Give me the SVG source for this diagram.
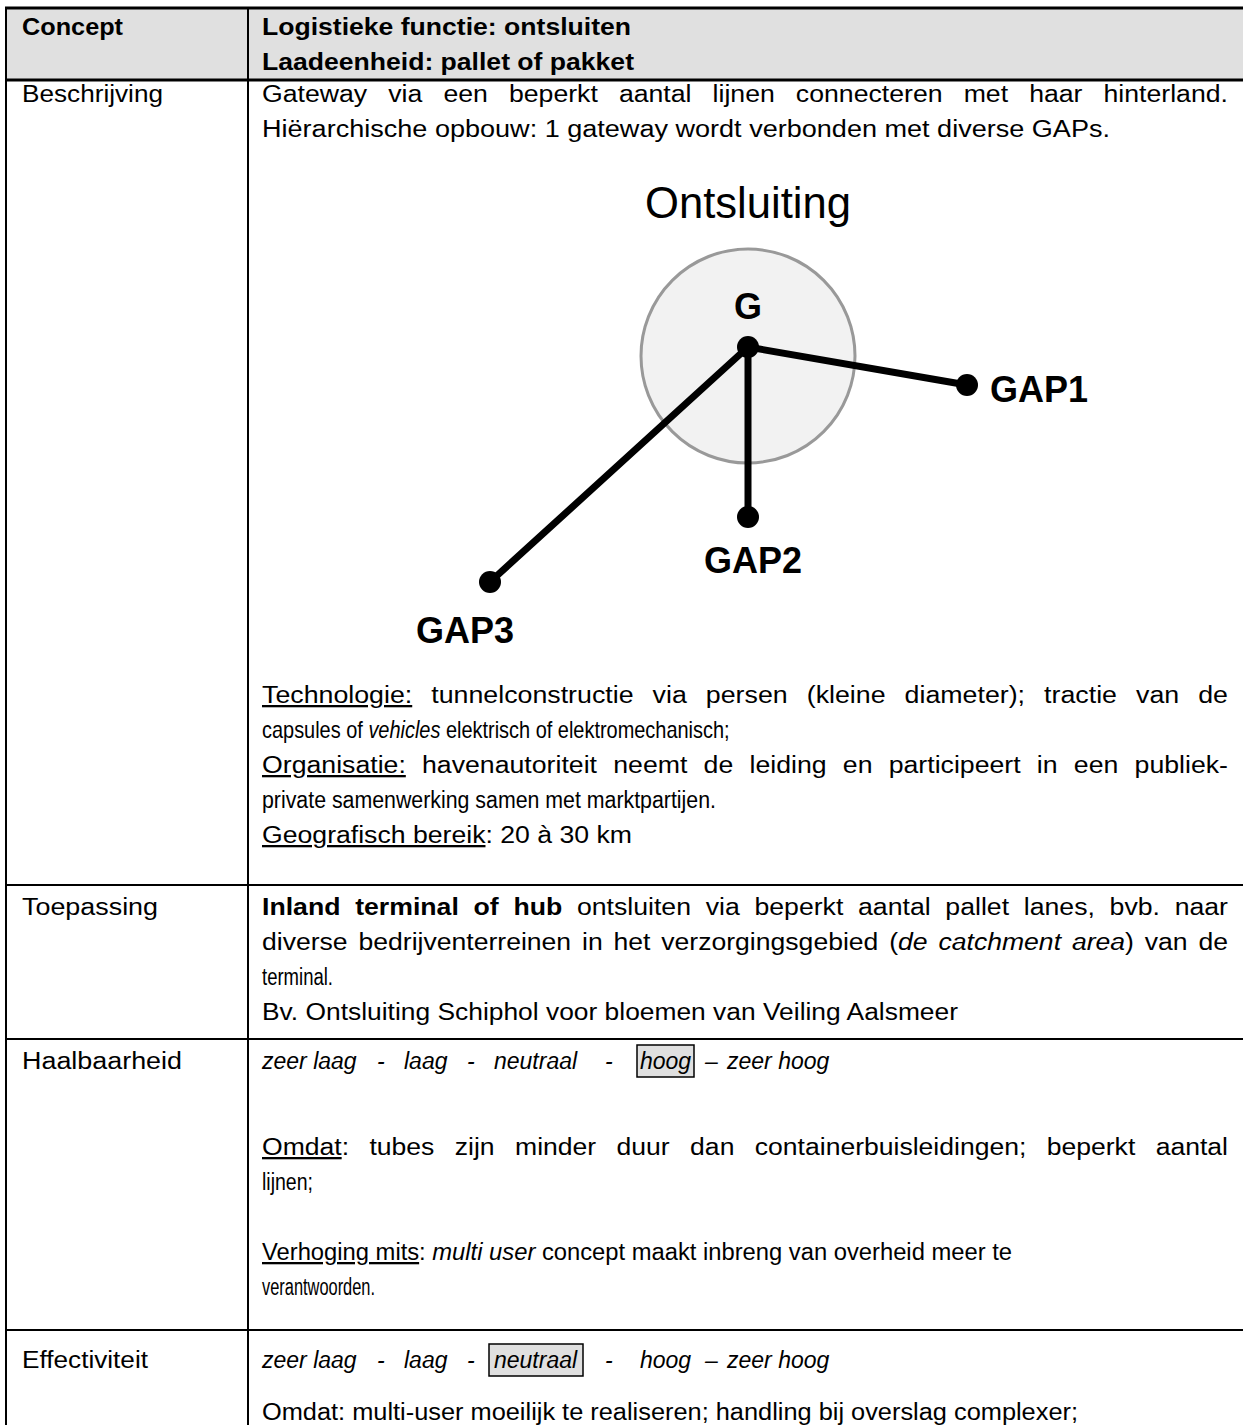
<svg xmlns="http://www.w3.org/2000/svg" width="1243" height="1425" viewBox="0 0 1243 1425">
  <style>
    .t { font-family: "Liberation Sans", Arial, sans-serif; font-size: 23px; fill: #000; }
    .b { font-weight: bold; }
    .i { font-style: italic; }
    .u { text-decoration: underline; }
    .grid { stroke: #000; stroke-width: 2; fill: none; }
    .thick { stroke: #000; stroke-width: 3; }
    .hl { fill: #e0e0e0; stroke: #000; stroke-width: 1.5; }
    .link { stroke: #000; stroke-width: 7; stroke-linecap: round; fill: none; }
    .dot { fill: #000; }
    .lbl { font-family: "Liberation Sans", Arial, sans-serif; font-weight: bold; font-size: 36px; fill: #000; }
  </style>
  <rect width="1243" height="1425" fill="#fff"/>

  <!-- table grid -->
  <g id="table">
    <rect x="5" y="8" width="1238" height="72" fill="#e0e0e0"/>
    <line class="thick" x1="5" y1="8" x2="1243" y2="8"/>
    <line class="thick" x1="5" y1="80" x2="1243" y2="80"/>
    <line class="grid" x1="5" y1="885" x2="1243" y2="885"/>
    <line class="grid" x1="5" y1="1039" x2="1243" y2="1039"/>
    <line class="grid" x1="5" y1="1330" x2="1243" y2="1330"/>
    <line class="grid" x1="6" y1="7" x2="6" y2="1425"/>
    <line class="grid" x1="248" y1="7" x2="248" y2="1425"/>
  </g>

  <!-- header row -->
  <g id="header">
    <text class="t b" x="22" y="35" textLength="101" lengthAdjust="spacingAndGlyphs">Concept</text>
    <text class="t b" x="262" y="35" textLength="369" lengthAdjust="spacingAndGlyphs">Logistieke functie: ontsluiten</text>
    <text class="t b" x="262" y="70" textLength="372" lengthAdjust="spacingAndGlyphs">Laadeenheid: pallet of pakket</text>
  </g>

  <!-- Beschrijving row -->
  <g id="beschrijving">
    <text class="t" x="22" y="102" textLength="141" lengthAdjust="spacingAndGlyphs">Beschrijving</text>
    <text class="t" x="262" y="102" word-spacing="11.8" textLength="966" lengthAdjust="spacingAndGlyphs">Gateway via een beperkt aantal lijnen connecteren met haar hinterland.</text>
    <text class="t" x="262" y="137" textLength="848" lengthAdjust="spacingAndGlyphs">Hiërarchische opbouw: 1 gateway wordt verbonden met diverse GAPs.</text>

    <text class="t" x="262" y="703" word-spacing="10" textLength="966" lengthAdjust="spacingAndGlyphs"><tspan class="u">Technologie:</tspan> tunnelconstructie via persen (kleine diameter); tractie van de</text>
    <!-- narrow line, squeezed horizontally -->
    <g transform="translate(262,738) scale(0.867,1)">
      <text class="t" x="0" y="0">capsules of <tspan class="i">vehicles</tspan> elektrisch of elektromechanisch;</text>
    </g>
    <text class="t" x="262" y="773" word-spacing="7.6" textLength="966" lengthAdjust="spacingAndGlyphs"><tspan class="u">Organisatie:</tspan> havenautoriteit neemt de leiding en participeert in een publiek-</text>
    <text class="t" x="262" y="808" textLength="454" lengthAdjust="spacingAndGlyphs">private samenwerking samen met marktpartijen.</text>
    <text class="t" x="262" y="843" textLength="370" lengthAdjust="spacingAndGlyphs"><tspan class="u">Geografisch bereik</tspan>: 20 à 30 km</text>
  </g>

  <!-- Ontsluiting diagram -->
  <g id="diagram">
    <text x="748" y="218" text-anchor="middle" font-family="Liberation Sans, Arial, sans-serif" font-size="44" textLength="206" lengthAdjust="spacingAndGlyphs" fill="#000">Ontsluiting</text>
    <g id="node-G">
      <circle cx="748" cy="356" r="107" fill="#f2f2f2" stroke="#999" stroke-width="3"/>
      <text class="lbl" x="748" y="319" text-anchor="middle" font-size="37" textLength="28" lengthAdjust="spacingAndGlyphs">G</text>
    </g>
    <g id="connectors">
      <line class="link" x1="748" y1="347" x2="967" y2="385"/>
      <line class="link" x1="748" y1="347" x2="748" y2="517"/>
      <line class="link" x1="748" y1="347" x2="490" y2="582"/>
    </g>
    <circle class="dot" cx="748" cy="347" r="11"/>
    <g id="node-GAP1">
      <circle class="dot" cx="967" cy="385" r="11"/>
      <text class="lbl" x="990" y="402">GAP1</text>
    </g>
    <g id="node-GAP2">
      <circle class="dot" cx="748" cy="517" r="11"/>
      <text class="lbl" x="753" y="573" text-anchor="middle">GAP2</text>
    </g>
    <g id="node-GAP3">
      <circle class="dot" cx="490" cy="582" r="11"/>
      <text class="lbl" x="416" y="643">GAP3</text>
    </g>
  </g>

  <!-- Toepassing row -->
  <g id="toepassing">
    <text class="t" x="22" y="915" textLength="136" lengthAdjust="spacingAndGlyphs">Toepassing</text>
    <text class="t" x="262" y="915" word-spacing="6.3" textLength="966" lengthAdjust="spacingAndGlyphs"><tspan class="b">Inland terminal of hub</tspan> ontsluiten via beperkt aantal pallet lanes, bvb. naar</text>
    <text class="t" x="262" y="950" word-spacing="3" textLength="966" lengthAdjust="spacingAndGlyphs">diverse bedrijventerreinen in het verzorgingsgebied (<tspan class="i">de catchment area</tspan>) van de</text>
    <text class="t" x="262" y="985" textLength="71" lengthAdjust="spacingAndGlyphs">terminal.</text>
    <text class="t" x="262" y="1020" textLength="696" lengthAdjust="spacingAndGlyphs">Bv. Ontsluiting Schiphol voor bloemen van Veiling Aalsmeer</text>
  </g>

  <!-- Haalbaarheid row -->
  <g id="haalbaarheid">
    <text class="t" x="22" y="1069" textLength="160" lengthAdjust="spacingAndGlyphs">Haalbaarheid</text>
    <rect class="hl" x="637" y="1045" width="57" height="32"/>
    <text class="t i" y="1069">
      <tspan x="262">zeer laag</tspan>
      <tspan x="377">-</tspan>
      <tspan x="404">laag</tspan>
      <tspan x="467">-</tspan>
      <tspan x="494">neutraal</tspan>
      <tspan x="605">-</tspan>
      <tspan x="640">hoog</tspan>
      <tspan x="705">–</tspan>
      <tspan x="727">zeer hoog</tspan>
    </text>
    <text class="t" x="262" y="1155" word-spacing="11.3" textLength="966" lengthAdjust="spacingAndGlyphs"><tspan class="u">Omdat</tspan>: tubes zijn minder duur dan containerbuisleidingen; beperkt aantal</text>
    <text class="t" x="262" y="1190" textLength="51" lengthAdjust="spacingAndGlyphs">lijnen;</text>
    <text class="t" x="262" y="1260" textLength="750" lengthAdjust="spacingAndGlyphs"><tspan class="u">Verhoging mits</tspan>: <tspan class="i">multi user</tspan> concept maakt inbreng van overheid meer te</text>
    <text class="t" x="262" y="1295" textLength="113" lengthAdjust="spacingAndGlyphs">verantwoorden.</text>
  </g>

  <!-- Effectiviteit row -->
  <g id="effectiviteit">
    <text class="t" x="22" y="1368" textLength="126" lengthAdjust="spacingAndGlyphs">Effectiviteit</text>
    <rect class="hl" x="489" y="1344" width="94" height="32"/>
    <text class="t i" y="1368">
      <tspan x="262">zeer laag</tspan>
      <tspan x="377">-</tspan>
      <tspan x="404">laag</tspan>
      <tspan x="467">-</tspan>
      <tspan x="494">neutraal</tspan>
      <tspan x="605">-</tspan>
      <tspan x="640">hoog</tspan>
      <tspan x="705">–</tspan>
      <tspan x="727">zeer hoog</tspan>
    </text>
    <text class="t" x="262" y="1420" textLength="816" lengthAdjust="spacingAndGlyphs">Omdat: multi-user moeilijk te realiseren; handling bij overslag complexer;</text>
  </g>
</svg>
